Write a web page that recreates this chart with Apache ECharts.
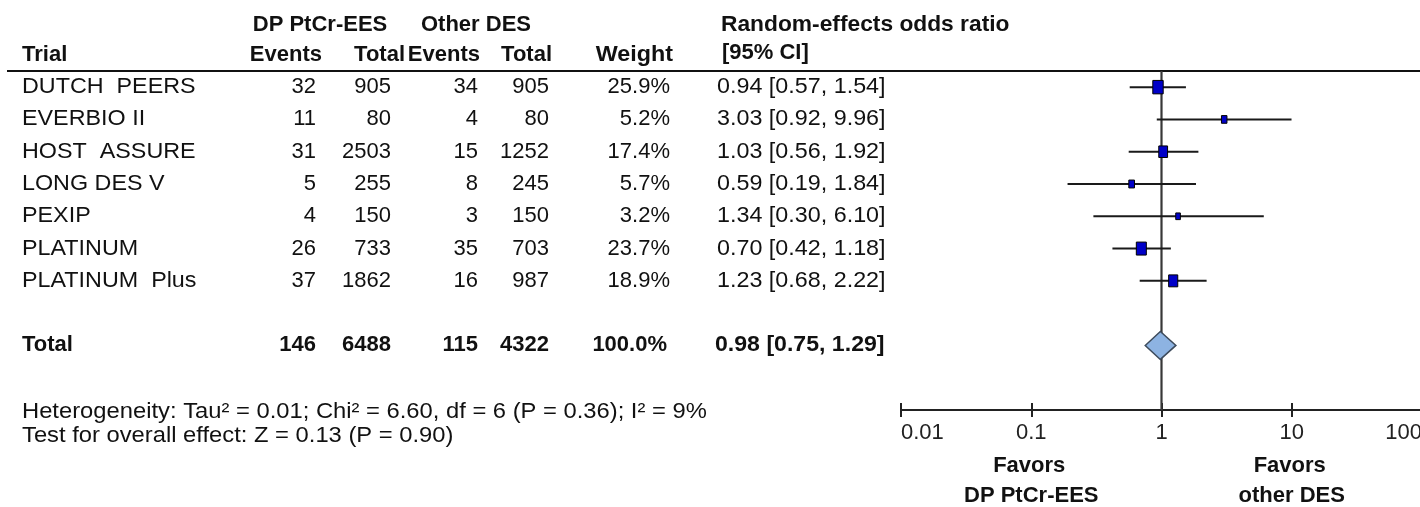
<!DOCTYPE html>
<html>
<head>
<meta charset="utf-8">
<script src="https://cdn.jsdelivr.net/npm/echarts@6/dist/echarts.min.js"></script>
<style>
  html, body { margin: 0; padding: 0; background: #ffffff; }
  #chart { width: 1420px; height: 507px; }
</style>
</head>
<body>
<div id="chart"></div>
<script>
// ---- Trial-level data -------------------------------------------------
const trials     = ['DUTCH  PEERS', 'EVERBIO II', 'HOST  ASSURE', 'LONG DES V', 'PEXIP', 'PLATINUM', 'PLATINUM  Plus'];
const eesEvents  = [32, 11, 31, 5, 4, 26, 37];
const eesTotal   = [905, 80, 2503, 255, 150, 733, 1862];
const desEvents  = [34, 4, 15, 8, 3, 35, 16];
const desTotal   = [905, 80, 1252, 245, 150, 703, 987];
const weights    = [25.9, 5.2, 17.4, 5.7, 3.2, 23.7, 18.9];
const oddsRatio  = [0.94, 3.03, 1.03, 0.59, 1.34, 0.70, 1.23];
const ciLow      = [0.57, 0.92, 0.56, 0.19, 0.30, 0.42, 0.68];
const ciHigh     = [1.54, 9.96, 1.92, 1.84, 6.10, 1.18, 2.22];

// ---- Pooled (random-effects) result -----------------------------------
const totalEvents   = [146, 115];
const totalPatients = [6488, 4322];
const totalWeight   = 100.0;
const pooledOR      = [0.98, 0.75, 1.29];   // estimate, lower, upper

// ---- Axis ticks and footnotes -----------------------------------------
const axisTicks = [0.01, 0.1, 1, 10, 100];
const heterogeneityText = 'Heterogeneity: Tau\u00B2 = 0.01; Chi\u00B2 = 6.60, df = 6 (P = 0.36); I\u00B2 = 9%';
const overallEffectText = 'Test for overall effect: Z = 0.13 (P = 0.90)';
const favorsLeft  = ['Favors', 'DP PtCr-EES'];
const favorsRight = ['Favors', 'other DES'];

const FONT = '"Liberation Sans", Arial, Helvetica, sans-serif';
const TEXT_COLOR = '#111111';
const TOTAL_ROW = trials.length + 1;

const chart = echarts.init(document.getElementById('chart'), null, { renderer: 'canvas' });

const studyData = trials.map((t, i) => [i, oddsRatio[i], ciLow[i], ciHigh[i], weights[i]]);
const pooledData = [[TOTAL_ROW, pooledOR[0], pooledOR[1], pooledOR[2]]];

// Whisker plus weight-scaled box for each trial
function renderStudy(params, api) {
  const row = api.value(0);
  const est = api.value(1), lo = api.value(2), hi = api.value(3), w = api.value(4);
  const pLo = api.coord([lo, row]);
  const pHi = api.coord([hi, row]);
  const pEst = api.coord([est, row]);
  const bw = 1.5 + 1.75 * Math.sqrt(w);
  const bh = 3 + 2.05 * Math.sqrt(w);
  return {
    type: 'group',
    children: [
      { type: 'line', shape: { x1: pLo[0], y1: pLo[1], x2: pHi[0], y2: pHi[1] },
        style: { stroke: '#1a1a1a', lineWidth: 2 } },
      { type: 'rect', shape: { x: pEst[0] - bw / 2, y: pEst[1] - bh / 2, width: bw, height: bh },
        style: { fill: '#0000c8', stroke: '#000000', lineWidth: 1 } }
    ]
  };
}

// Diamond for the pooled estimate
function renderPooled(params, api) {
  const row = api.value(0);
  const est = api.coord([api.value(1), row]);
  const lo = api.coord([api.value(2), row]);
  const hi = api.coord([api.value(3), row]);
  const half = 14;
  return {
    type: 'polygon',
    shape: { points: [[lo[0], lo[1]], [est[0], est[1] - half], [hi[0], hi[1]], [est[0], est[1] + half]] },
    style: { fill: '#8db3e2', stroke: '#3d4b5c', lineWidth: 1.5 }
  };
}

const tickLabel = v => String(parseFloat(Number(v).toPrecision(6)));

chart.setOption({
  animation: false,
  grid: { left: 901, width: 521, top: 71, height: 339, containLabel: false, outerBoundsMode: 'none' },
  xAxis: [
    {
      type: 'log', logBase: 10, min: axisTicks[0], max: axisTicks[axisTicks.length - 1],
      position: 'bottom',
      axisLine: { show: true, onZero: false, lineStyle: { color: '#222222', width: 2 } },
      axisTick: { show: true, length: 7, lineStyle: { color: '#222222', width: 2 } },
      minorTick: { show: false },
      splitLine: { show: false },
      axisLabel: {
        show: true, margin: 12, fontSize: 22, lineHeight: 22, fontFamily: FONT, color: '#222222',
        formatter: tickLabel, alignMinLabel: 'left', alignMaxLabel: 'right', hideOverlap: false
      }
    },
    {
      type: 'log', logBase: 10, min: axisTicks[0], max: axisTicks[axisTicks.length - 1],
      position: 'bottom',
      axisLine: { show: false, onZero: false },
      axisTick: { show: true, inside: true, length: 7, lineStyle: { color: '#222222', width: 2 } },
      minorTick: { show: false },
      splitLine: { show: false },
      axisLabel: { show: false }
    }
  ],
  yAxis: { type: 'value', inverse: true, min: -0.5, max: 10, show: false },
  series: [
    {
      type: 'line', xAxisIndex: 0, silent: true, symbol: 'none', z: 1,
      data: [[1, -0.5], [1, 10]],
      lineStyle: { color: '#383838', width: 2.2 }
    },
    {
      type: 'custom', xAxisIndex: 0, renderItem: renderStudy, data: studyData,
      encode: { x: 1, y: 0 }, z: 3, silent: true
    },
    {
      type: 'custom', xAxisIndex: 0, renderItem: renderPooled, data: pooledData,
      encode: { x: 1, y: 0 }, z: 3, silent: true
    }
  ]
});

// ---- Table text, aligned to the rows of the y axis ---------------------
const yAt = r => chart.convertToPixel({ yAxisIndex: 0 }, r);
const xAt = v => chart.convertToPixel({ xAxisIndex: 0 }, v);

function txt(str, x, y, align, bold, sx) {
  return {
    type: 'text', x: x, y: y, scaleX: sx || 1, silent: true,
    style: {
      text: str, x: 0, y: 0, align: align, verticalAlign: 'middle',
      fill: TEXT_COLOR, font: (bold ? 'bold ' : '') + '22px ' + FONT
    }
  };
}

const COL = { name: 22, ev1: 316, tot1: 391, ev2: 478, tot2: 549, wt: 670, ci: 717 };
const WIDE = 1.06;
const fmtCI = (e, l, h) => e.toFixed(2) + ' [' + l.toFixed(2) + ', ' + h.toFixed(2) + ']';

const g = [];
// header
g.push(txt('DP PtCr-EES', 320, 25, 'center', true));
g.push(txt('Other DES', 476, 25, 'center', true));
g.push(txt('Random-effects odds ratio', 721, 25, 'left', true, 1.035));
g.push(txt('Trial', COL.name, 55, 'left', true));
g.push(txt('Events', 322, 55, 'right', true));
g.push(txt('Total', 405, 55, 'right', true));
g.push(txt('Events', 480, 55, 'right', true));
g.push(txt('Total', 552, 55, 'right', true));
g.push(txt('Weight', 673, 55, 'right', true, 1.06));
g.push(txt('[95% CI]', 722, 53, 'left', true));

// rule under the header
const ruleY = yAt(-0.5);
g.push({ type: 'line', silent: true, shape: { x1: 7, y1: ruleY, x2: 1420, y2: ruleY },
         style: { stroke: '#111111', lineWidth: 2 } });

// trial rows
trials.forEach((name, i) => {
  const y = yAt(i);
  g.push(txt(name, COL.name, y, 'left', false, WIDE));
  g.push(txt(String(eesEvents[i]), COL.ev1, y, 'right'));
  g.push(txt(String(eesTotal[i]), COL.tot1, y, 'right'));
  g.push(txt(String(desEvents[i]), COL.ev2, y, 'right'));
  g.push(txt(String(desTotal[i]), COL.tot2, y, 'right'));
  g.push(txt(weights[i].toFixed(1) + '%', COL.wt, y, 'right'));
  g.push(txt(fmtCI(oddsRatio[i], ciLow[i], ciHigh[i]), COL.ci, y, 'left', false, WIDE));
});

// pooled row
const ty = yAt(TOTAL_ROW);
g.push(txt('Total', COL.name, ty, 'left', true));
g.push(txt(String(totalEvents[0]), COL.ev1, ty, 'right', true));
g.push(txt(String(totalPatients[0]), COL.tot1, ty, 'right', true));
g.push(txt(String(totalEvents[1]), COL.ev2, ty, 'right', true));
g.push(txt(String(totalPatients[1]), COL.tot2, ty, 'right', true));
g.push(txt(totalWeight.toFixed(1) + '%', COL.wt - 3, ty, 'right', true));
g.push(txt(fmtCI(pooledOR[0], pooledOR[1], pooledOR[2]), COL.ci - 2, ty, 'left', true, 1.05));

// footnotes
g.push(txt(heterogeneityText, COL.name, 412, 'left', false, 1.08));
g.push(txt(overallEffectText, COL.name, 436, 'left', false, 1.08));

// direction labels under the axis
const xl = xAt(0.1), xr = xAt(10);
g.push(txt(favorsLeft[0], xl - 2, 466, 'center', true));
g.push(txt(favorsLeft[1], xl, 496, 'center', true));
g.push(txt(favorsRight[0], xr - 2, 466, 'center', true));
g.push(txt(favorsRight[1], xr, 496, 'center', true));

chart.setOption({ graphic: { elements: g } });
</script>
</body>
</html>
